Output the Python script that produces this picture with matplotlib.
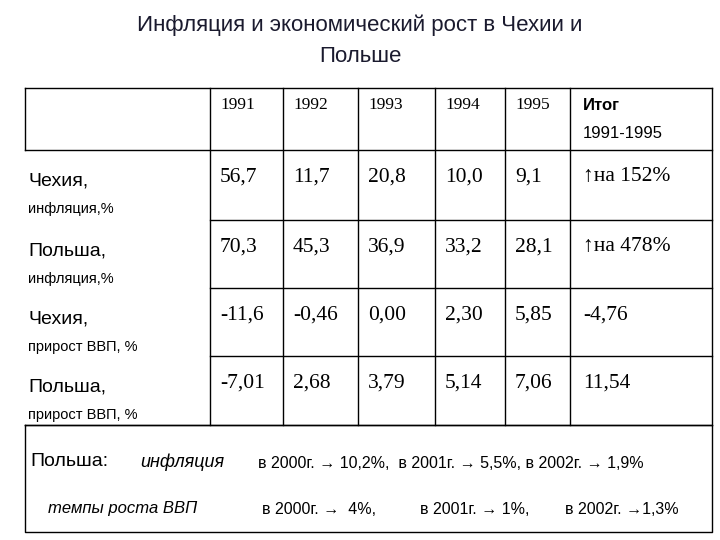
import matplotlib
matplotlib.use("Agg")
import matplotlib.pyplot as plt

years = ["1991", "1992", "1993", "1994", "1995"]
row_main = ["Чехия,", "Польша,", "Чехия,", "Польша,"]
row_sub = ["инфляция,%", "инфляция,%", "прирост ВВП, %", "прирост ВВП, %"]
values = [
    ["56,7", "11,7", "20,8", "10,0", "9,1"],
    ["70,3", "45,3", "36,9", "33,2", "28,1"],
    ["-11,6", "-0,46", "0,00", "2,30", "5,85"],
    ["-7,01", "2,68", "3,79", "5,14", "7,06"],
]
totals = ["↑на 152%", "↑на 478%", "-4,76", "11,54"]

col_x = [25, 210, 283, 358, 435, 505, 570, 712]
row_y = [88, 150, 220, 288, 356, 425]

fig = plt.figure(figsize=(7.2, 5.4), dpi=100)
ax = fig.add_axes([0, 0, 1, 1])
ax.set_xlim(0, 720)
ax.set_ylim(540, 0)
ax.axis("off")

sans = ["Liberation Sans", "DejaVu Sans"]
serif = ["Liberation Serif", "DejaVu Serif"]

ax.text(360, 25, "Инфляция и экономический рост в Чехии и", ha="center", va="center",
        fontsize=16, family=sans, color="#1a1a2e")
ax.text(360, 56, "Польше", ha="center", va="center", fontsize=16, family=sans, color="#1a1a2e")

# grid
for i, x in enumerate(col_x):
    y_end = row_y[1] if i == 0 else row_y[-1]
    ax.plot([x, x], [row_y[0], y_end], color="black", lw=1)
for i, y in enumerate(row_y):
    x0 = col_x[0] if i in (0, 1, len(row_y) - 1) else col_x[1]
    ax.plot([x0, col_x[-1]], [y, y], color="black", lw=1)
# bottom box
ax.plot([25, 712, 712, 25, 25], [425, 425, 532, 532, 425], color="black", lw=1)

for j, yr in enumerate(years):
    ax.text(col_x[j + 1] + 10, 105, yr, va="center", fontsize=12.5, family=serif)
ax.text(col_x[6] + 13, 105, "Итог", va="center", fontsize=12, weight="bold", family=sans)
ax.text(col_x[6] + 13, 133, "1991-1995", va="center", fontsize=12, family=sans)

for i in range(4):
    y0 = row_y[i + 1]
    ax.text(28, y0 + 31, row_main[i], va="center", fontsize=14, family=sans)
    ax.text(28, y0 + 59, row_sub[i], va="center", fontsize=10.5, family=sans)
    for j, v in enumerate(values[i]):
        ax.text(col_x[j + 1] + 10, y0 + 27, v, va="center", fontsize=15.5, family=serif)
    ax.text(col_x[6] + 13, y0 + 27, totals[i], va="center", fontsize=15.5, family=serif)

ax.text(30, 462, "Польша:", va="center", fontsize=14, family=sans)
ax.text(140, 462, "инфляция", va="center", fontsize=13, style="italic", family=sans)
ax.text(258, 463, "в 2000г. → 10,2%,  в 2001г. → 5,5%, в 2002г. → 1,9%", va="center",
        fontsize=11.5, family=sans)
ax.text(48, 508, "темпы роста ВВП", va="center", fontsize=12, style="italic", family=sans)
ax.text(262, 509, "в 2000г. →  4%,", va="center", fontsize=11.5, family=sans)
ax.text(420, 509, "в 2001г. → 1%,", va="center", fontsize=11.5, family=sans)
ax.text(565, 509, "в 2002г. →1,3%", va="center", fontsize=11.5, family=sans)

fig.savefig("out.png", dpi=100)
